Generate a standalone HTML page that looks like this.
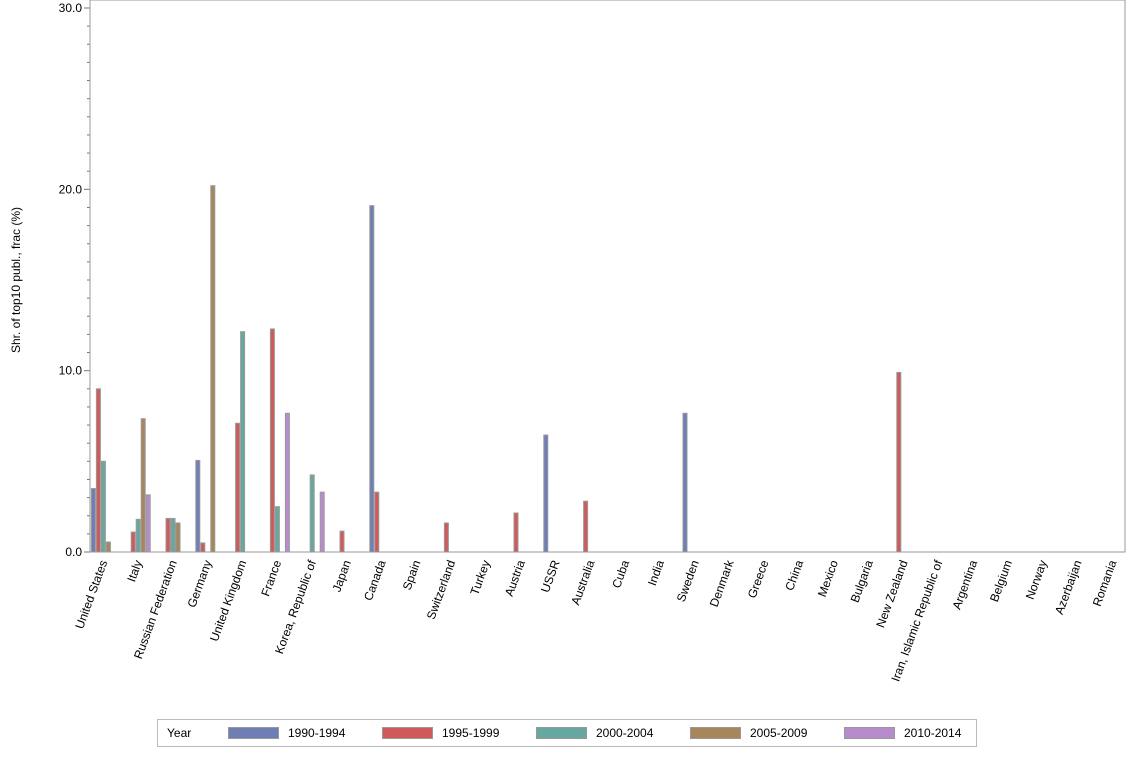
<!DOCTYPE html>
<html><head><meta charset="utf-8"><style>
body{margin:0;background:#fff;font-family:"Liberation Sans",sans-serif;}
svg text{font-family:"Liberation Sans",sans-serif;font-size:12px;fill:#000;}
</style></head><body>
<svg id="chart" width="1134" height="756"></svg>
<script>
const categories=["United States","Italy","Russian Federation","Germany","United Kingdom","France","Korea, Republic of","Japan","Canada","Spain","Switzerland","Turkey","Austria","USSR","Australia","Cuba","India","Sweden","Denmark","Greece","China","Mexico","Bulgaria","New Zealand","Iran, Islamic Republic of","Argentina","Belgium","Norway","Azerbaijan","Romania"];
const seriesNames=["1990-1994","1995-1999","2000-2004","2005-2009","2010-2014"];
const s1990=[3.5,0,0,5.05,0,0,0,0,19.1,0,0,0,0,6.45,0,0,0,7.65,0,0,0,0,0,0,0,0,0,0,0,0];
const s1995=[9.0,1.1,1.85,0.5,7.1,12.3,0,1.15,3.3,0,1.6,0,2.15,0,2.8,0,0,0,0,0,0,0,0,9.9,0,0,0,0,0,0];
const s2000=[5.0,1.8,1.85,0,12.15,2.5,4.25,0,0,0,0,0,0,0,0,0,0,0,0,0,0,0,0,0,0,0,0,0,0,0];
const s2005=[0.55,7.35,1.6,20.2,0,0,0,0,0,0,0,0,0,0,0,0,0,0,0,0,0,0,0,0,0,0,0,0,0,0];
const s2010=[0,3.15,0,0,0,7.65,3.3,0,0,0,0,0,0,0,0,0,0,0,0,0,0,0,0,0,0,0,0,0,0,0];
const yTicks=[0,10,20,30];
const series=[s1990,s1995,s2000,s2005,s2010];
const colors=["#6f7fb5","#d05a5a","#66a8a0","#a8865c","#b88ccc"];
const NS="http://www.w3.org/2000/svg";
const svg=document.getElementById('chart');
const L=90,R=1125,T=8,B=552;
const yS=v=>B-(v/30)*(B-T);
const step=34.8,x0=86;
const xC=i=>x0+step*(i+0.5);
function mk(tag,attrs,parent){const e=document.createElementNS(NS,tag);for(const k in attrs)e.setAttribute(k,attrs[k]);(parent||svg).appendChild(e);return e;}
const defs=mk('defs',{});const cp=mk('clipPath',{id:'pc'},defs);mk('rect',{x:L,y:0,width:R-L,height:B},cp);
const frame=mk('rect',{x:L,y:T-8+8-8,width:R-L,height:B-T+8,fill:'none',stroke:'#999'});
frame.setAttribute('y',0);frame.setAttribute('height',B);


// y axis ticks
for(let v=0;v<=30;v++){
  const big=v%10===0;
  const t=mk('line',{x1:L-(big?6:3),x2:L,y1:yS(v),y2:yS(v),stroke:'#777'});
  
  
}
yTicks.forEach(v=>{const t=mk('text',{x:L-8,y:yS(v)+4,'text-anchor':'end'});t.textContent=v.toFixed(1);
  
  });
const yt=mk('text',{x:0,y:0,transform:'translate(20,280) rotate(-90)','text-anchor':'middle'});yt.textContent="Shr. of top10 publ., frac (%)";


const g=mk('g',{'clip-path':'url(#pc)'});
categories.forEach((c,i)=>{
  series.forEach((s,k)=>{
    const v=s[i];if(!v)return;
    const x=xC(i)-12.5+k*5;
    const r=mk('rect',{x:x+0.5,y:yS(v),width:4,height:B-yS(v),fill:colors[k],stroke:'#999','stroke-width':1},g);
    
    
  });
  const t=mk('text',{x:0,y:0,'text-anchor':'end',transform:`translate(${xC(i)+4},${B+10}) rotate(-70)`});t.textContent=c;
  
  
});
mk('line',{x1:L,x2:R,y1:B,y2:B,stroke:'#999'});
mk('line',{x1:L,x2:L,y1:0,y2:B,stroke:'#999'});
// legend
const lg=mk('g',{});


mk('rect',{x:157.5,y:719.5,width:819,height:27,fill:'#fff',stroke:'#bbb'},lg);
const ly=mk('text',{x:167,y:737},lg);ly.textContent="Year";
seriesNames.forEach((n,k)=>{
  const x=228+k*154;
  const sw=mk('rect',{x:x+0.5,y:727.5,width:50,height:11,fill:colors[k],stroke:'#999'},lg);
  
  
  const t=mk('text',{x:x+60,y:737},lg);t.textContent=n;
  
  
});
</script>
</body></html>
